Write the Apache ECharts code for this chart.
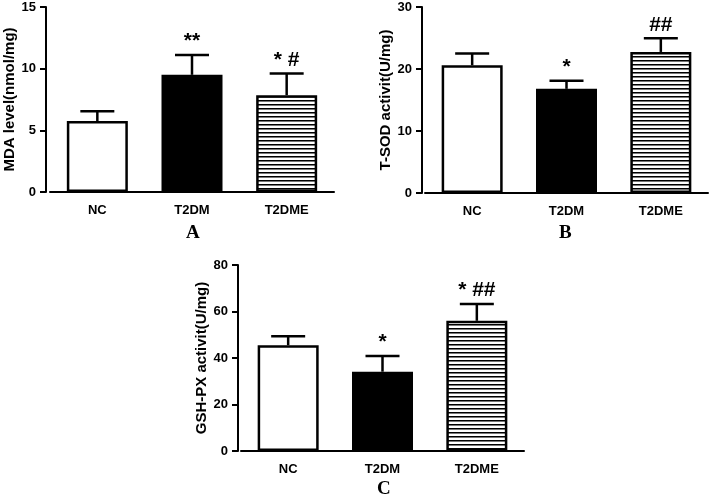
<!DOCTYPE html>
<html>
<head>
<meta charset="utf-8">
<script src="https://cdn.jsdelivr.net/npm/echarts@6/dist/echarts.min.js"></script>
<style>
html,body{margin:0;padding:0;background:#fff;}
#chart{width:709px;height:497px;}
</style>
</head>
<body>
<div id="chart"></div>
<script>
// ---- data ----
var categories = ['NC', 'T2DM', 'T2DME'];
var mdaMean = [5.75, 9.5, 7.85];
var mdaErr = [0.8, 1.6, 1.75];
var mdaSig = ['', '**', '* #'];
var sodMean = [20.6, 16.8, 22.75];
var sodErr = [1.9, 1.3, 2.2];
var sodSig = ['', '*', '##'];
var gshMean = [45.5, 34.1, 56.0];
var gshErr = [3.9, 6.8, 7.2];
var gshSig = ['', '*', '* ##'];
var panelLetters = ['A', 'B', 'C'];
var yTitles = ['MDA level(nmol/mg)', 'T-SOD activit(U/mg)', 'GSH-PX activit(U/mg)'];
var yMax = [15, 30, 80];
var yInterval = [5, 10, 20];

// stripe pattern
var pc = document.createElement('canvas');
pc.width = 4; pc.height = 4;
var pctx = pc.getContext('2d');
pctx.fillStyle = '#fff'; pctx.fillRect(0, 0, 4, 4);
pctx.fillStyle = '#000'; pctx.fillRect(0, 0, 4, 1);
pctx.fillStyle = '#777'; pctx.fillRect(0, 1, 4, 1);
var stripe = {image: pc, repeat: 'repeat'};
var fills = ['#ffffff', '#000000', stripe];

var grids = [
  {left: 50, top: 7, right: 375, bottom: 305},
  {left: 425, top: 7, right: 1, bottom: 304},
  {left: 241, top: 265, right: 185, bottom: 46}
];
var yOffsets = [4, 3, 3];
var nameGaps = [29, 32, 32];
var means = [mdaMean, sodMean, gshMean];
var errs = [mdaErr, sodErr, gshErr];
var sigs = [mdaSig, sodSig, gshSig];
var FONT = 'Liberation Sans, Arial';

var xAxes = [], yAxes = [], series = [];
for (var g = 0; g < 3; g++) {
  xAxes.push({
    type: 'category', gridIndex: g, data: categories,
    axisLine: {lineStyle: {color: '#000', width: 2}},
    axisTick: {alignWithLabel: true, length: 5, lineStyle: {color: '#000', width: 2}},
    axisLabel: {color: '#000', fontFamily: FONT, fontWeight: 'bold', fontSize: 13, margin: 12}
  });
  yAxes.push({
    type: 'value', gridIndex: g, min: 0, max: yMax[g], interval: yInterval[g],
    offset: yOffsets[g],
    name: yTitles[g], nameLocation: 'middle', nameGap: nameGaps[g] - yOffsets[g],
    nameTextStyle: {color: '#000', fontFamily: FONT, fontWeight: 'bold', fontSize: 15},
    axisLine: {show: true, lineStyle: {color: '#000', width: 2}},
    axisTick: {show: true, length: 6, lineStyle: {color: '#000', width: 2}},
    axisLabel: {color: '#000', fontFamily: FONT, fontWeight: 'bold', fontSize: 13, margin: 10},
    splitLine: {show: false}
  });
  (function (g) {
    series.push({
      type: 'bar', xAxisIndex: g, yAxisIndex: g, barWidth: 61, z: 2,
      data: means[g].map(function (v, i) {
        return {value: v, itemStyle: {color: fills[i], borderColor: '#000', borderWidth: 2.5}};
      })
    });
    series.push({
      type: 'custom', xAxisIndex: g, yAxisIndex: g, z: 3,
      data: means[g].map(function (v, i) { return [i, v, v + errs[g][i]]; }),
      renderItem: function (params, api) {
        var i = api.value(0);
        var p0 = api.coord([i, api.value(1)]);
        var p1 = api.coord([i, api.value(2)]);
        var sig = sigs[g][params.dataIndex];
        var children = [
          {type: 'line', shape: {x1: p0[0], y1: p0[1], x2: p1[0], y2: p1[1]}, style: {stroke: '#000', lineWidth: 2.5}},
          {type: 'line', shape: {x1: p1[0] - 17, y1: p1[1], x2: p1[0] + 17, y2: p1[1]}, style: {stroke: '#000', lineWidth: 2.5}}
        ];
        if (sig) {
          children.push({type: 'text', style: {text: sig, x: p1[0], y: p1[1] - 3, align: 'center', verticalAlign: 'bottom',
            fill: '#000', font: 'bold 21px "Liberation Sans", Arial'}});
        }
        return {type: 'group', children: children};
      }
    });
  })(g);
}

var chart = echarts.init(document.getElementById('chart'), null, {renderer: 'canvas'});
chart.setOption({
  animation: false,
  backgroundColor: '#fff',
  grid: grids,
  xAxis: xAxes,
  yAxis: yAxes,
  series: series,
  graphic: [
    {type: 'text', left: 186, top: 224, style: {text: panelLetters[0], fill: '#000', font: 'bold 19px "Liberation Serif", "Times New Roman", serif'}},
    {type: 'text', left: 559, top: 224, style: {text: panelLetters[1], fill: '#000', font: 'bold 19px "Liberation Serif", "Times New Roman", serif'}},
    {type: 'text', left: 377, top: 480, style: {text: panelLetters[2], fill: '#000', font: 'bold 19px "Liberation Serif", "Times New Roman", serif'}}
  ]
});
</script>
</body>
</html>
